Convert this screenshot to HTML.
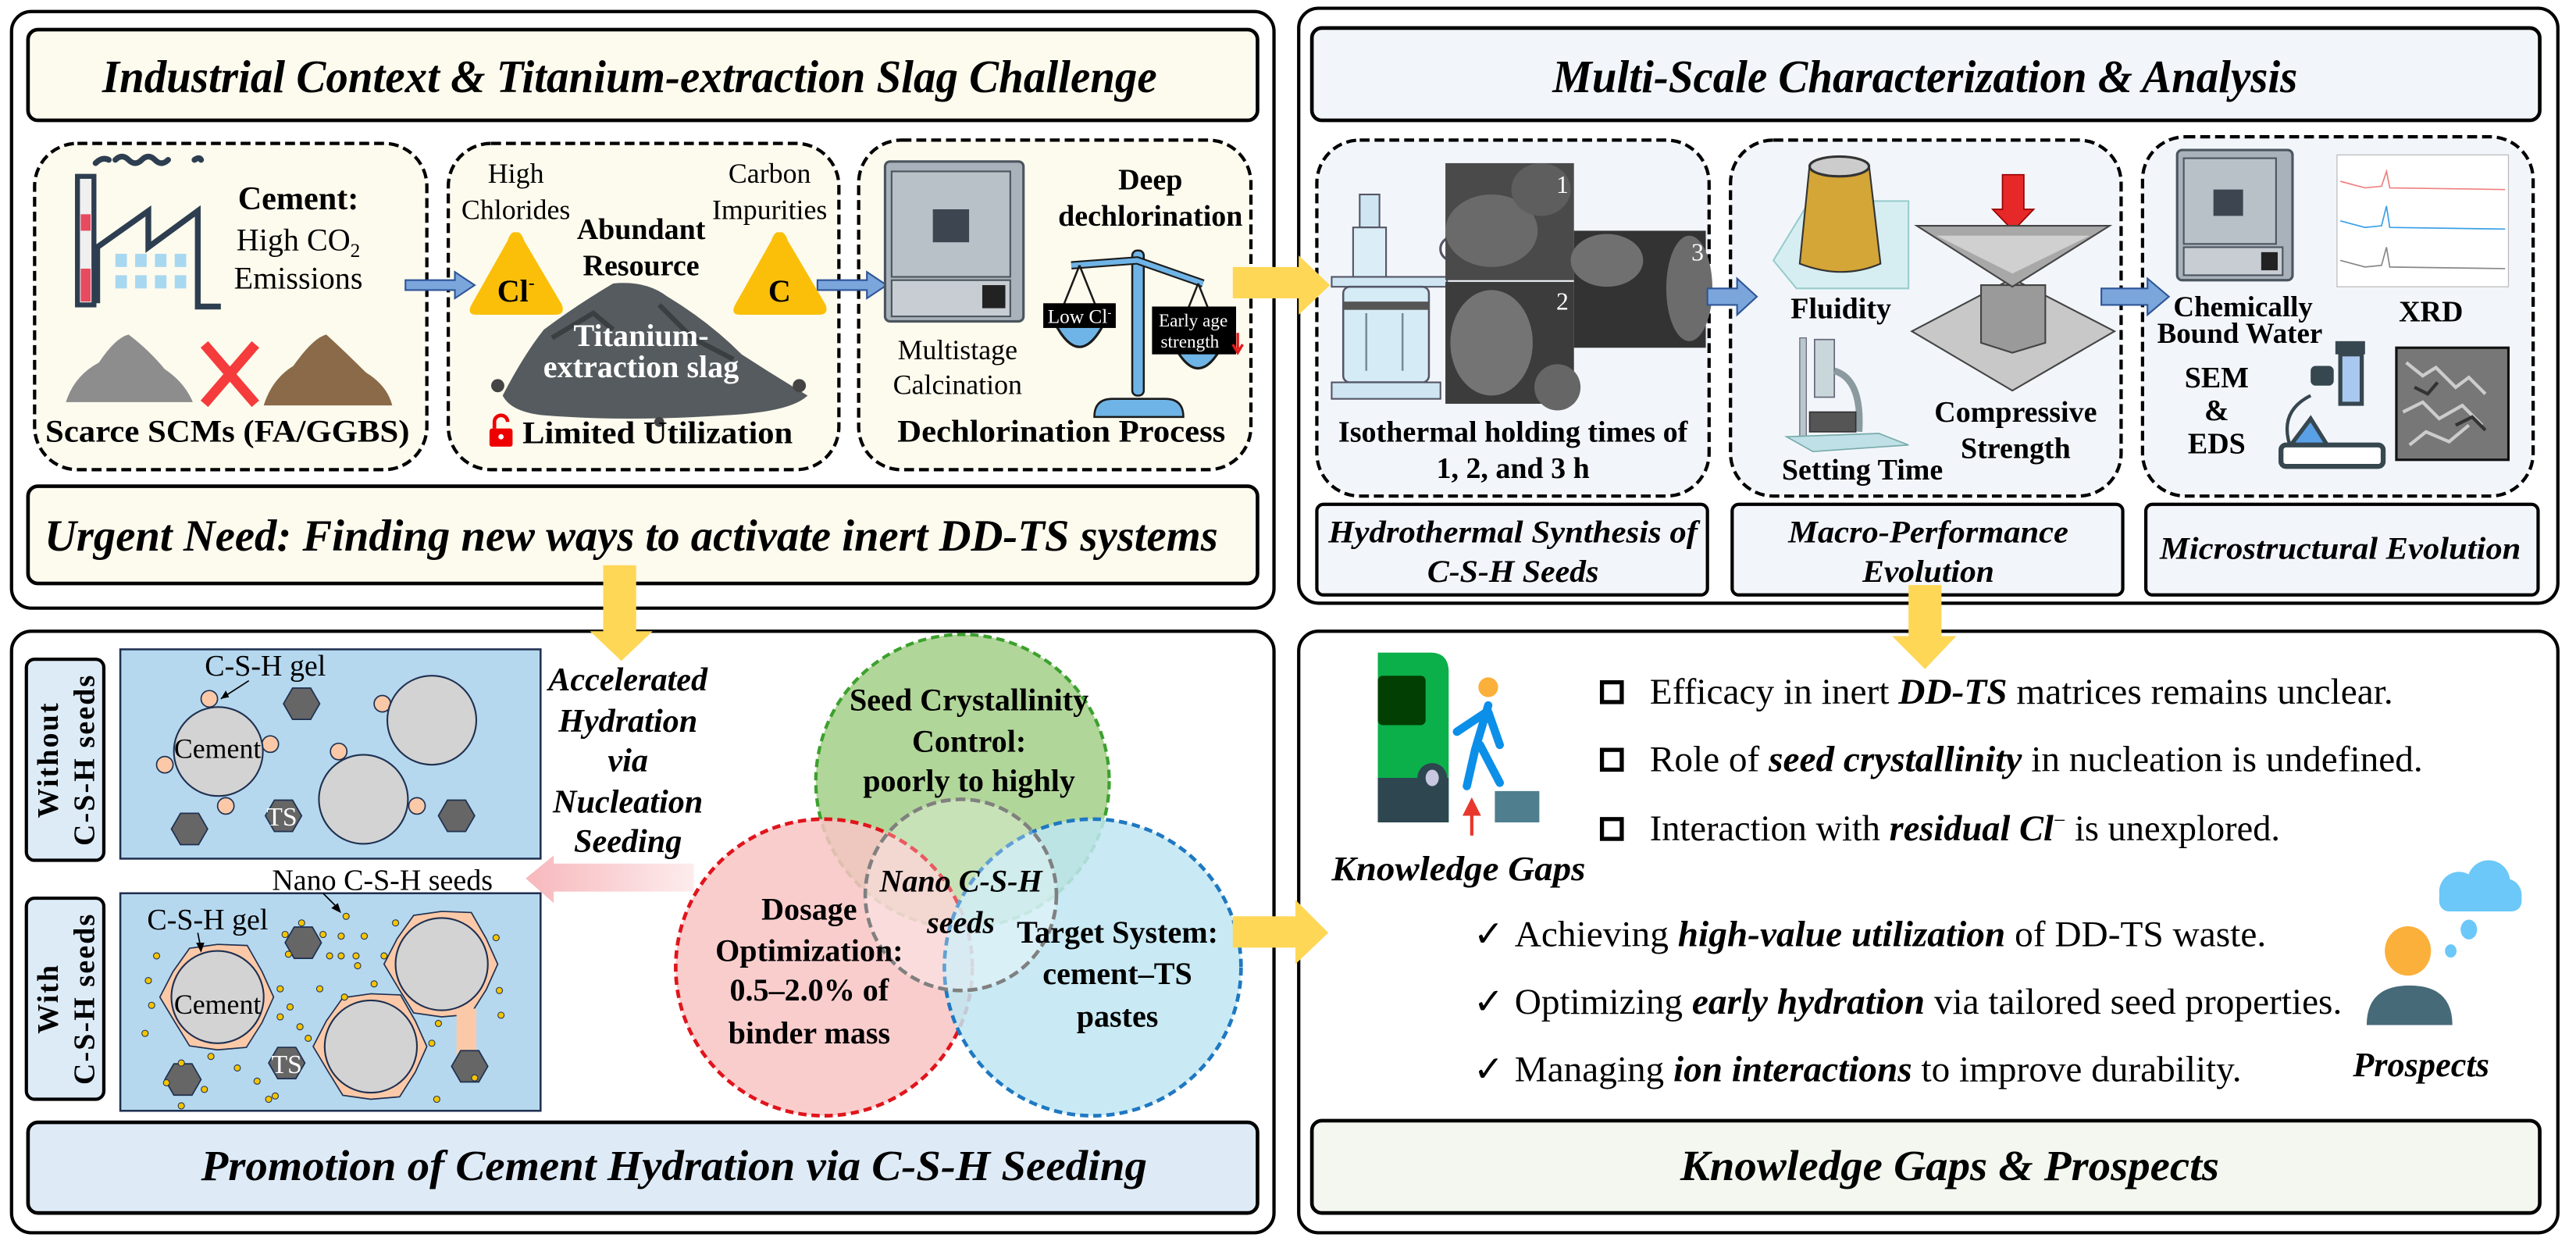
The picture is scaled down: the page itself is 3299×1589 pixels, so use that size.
<!DOCTYPE html>
<html><head><meta charset="utf-8"><style>
html,body{margin:0;padding:0;background:#fff;}
svg{display:block;}
text{font-family:"Liberation Serif",serif;}
</style></head><body>
<svg width="3299" height="1589" viewBox="0 0 1563 753" preserveAspectRatio="none" xmlns="http://www.w3.org/2000/svg">
<defs>
<polygon id="shell" points="34,0 27,15.5 17.5,30.5 0,32 -17,29.6 -26,15 -35,0 -27,-15.5 -17,-29.6 0,-32 18,-31.3 27,-15.5" fill="#fcc9a8" stroke="#1f3050" stroke-width="0.8"/>
<polygon id="hex" points="11,0 5.5,9.5 -5.5,9.5 -11,0 -5.5,-9.5 5.5,-9.5" fill="#666" stroke="#1f3050" stroke-width="0.8"/>
<linearGradient id="pinkg" x1="0" x2="1" y1="0" y2="0"><stop offset="0" stop-color="#f7b8bc"/><stop offset="1" stop-color="#fdeced"/></linearGradient>
</defs>
<rect width="1563" height="753" fill="#fff"/>

<!-- ===== TOP LEFT ===== -->
<rect x="7" y="7" width="766" height="362" rx="12" fill="#fff" stroke="#000" stroke-width="2"/>
<rect x="17" y="18" width="746" height="55" rx="6" fill="#fdfbee" stroke="#000" stroke-width="2.2"/>
<text x="382" y="56" font-size="28" font-weight="bold" font-style="italic" text-anchor="middle" textLength="640" lengthAdjust="spacingAndGlyphs">Industrial Context &amp; Titanium-extraction Slag Challenge</text>

<rect x="21" y="87" width="238" height="198" rx="26" fill="#fdfbee" stroke="#000" stroke-width="2" stroke-dasharray="6,3"/>
<rect x="272" y="87" width="237" height="198" rx="26" fill="#fdfbee" stroke="#000" stroke-width="2" stroke-dasharray="6,3"/>
<rect x="521" y="85" width="238" height="200" rx="26" fill="#fdfbee" stroke="#000" stroke-width="2" stroke-dasharray="6,3"/>

<!-- factory -->
<path d="M58 99 q4 -4 8 -2 M70 97 q4 -4 8 0 q4 4 8 0 q4 -4 8 0 q4 4 8 0 M118 97 q3 -2 4 0" fill="none" stroke="#2d3e50" stroke-width="3.5" stroke-linecap="round"/>
<rect x="47" y="107" width="10" height="78" fill="#f0f0f0" stroke="#2d3e50" stroke-width="3"/>
<rect x="49" y="130" width="6" height="10" fill="#e84a5f"/><rect x="49" y="163" width="6" height="20" fill="#e84a5f"/>
<path d="M59 184 V150 L90 128 V150 L120 128 V186 L134 186" fill="none" stroke="#2d3e50" stroke-width="3.5"/>
<g fill="#a8d8f0"><rect x="70" y="154" width="7" height="8"/><rect x="82" y="154" width="7" height="8"/><rect x="94" y="154" width="7" height="8"/><rect x="106" y="154" width="7" height="8"/><rect x="70" y="167" width="7" height="8"/><rect x="82" y="167" width="7" height="8"/><rect x="94" y="167" width="7" height="8"/><rect x="106" y="167" width="7" height="8"/></g>
<text x="181" y="127" font-size="20" font-weight="bold" text-anchor="middle">Cement:</text>
<text x="181" y="152" font-size="19" text-anchor="middle">High CO<tspan font-size="12" dy="4">2</tspan></text>
<text x="181" y="175" font-size="19" text-anchor="middle">Emissions</text>
<path d="M40 244 Q45 228 60 220 Q70 205 78 203 Q90 212 100 224 Q112 232 117 244 Z" fill="#8d8d8d"/>
<path d="M160 246 Q165 230 178 222 Q190 205 198 203 Q210 214 222 226 Q235 234 238 246 Z" fill="#8a6a48"/>
<path d="M124 209 L155 245 M155 209 L124 245" stroke="#f53b3b" stroke-width="6"/>
<text x="138" y="268" font-size="19" font-weight="bold" text-anchor="middle" textLength="221" lengthAdjust="spacingAndGlyphs">Scarce SCMs (FA/GGBS)</text>

<path d="M246 170 H276 V165 L288 173 L276 181 V176 H246 Z" fill="#7aa6dc" stroke="#2f5597" stroke-width="1"/>
<path d="M496 170 H526 V165 L538 173 L526 181 V176 H496 Z" fill="#7aa6dc" stroke="#2f5597" stroke-width="1"/>

<!-- box2 -->
<text x="313" y="111" font-size="17" text-anchor="middle">High</text>
<text x="313" y="133" font-size="17" text-anchor="middle">Chlorides</text>
<text x="467" y="111" font-size="17" text-anchor="middle">Carbon</text>
<text x="467" y="133" font-size="17" text-anchor="middle">Impurities</text>
<path d="M313 141 Q316 140 318 146 L341 185 Q343 191 337 191 L289 191 Q283 191 286 185 L308 146 Q310 140 313 141 Z" fill="#fbbf0a"/>
<text x="313" y="183" font-size="19" font-family="Liberation Sans" font-weight="bold" text-anchor="middle">Cl<tspan font-size="11" dy="-8">-</tspan></text>
<path d="M473 141 Q476 140 478 146 L501 185 Q503 191 497 191 L449 191 Q443 191 446 185 L468 146 Q470 140 473 141 Z" fill="#fbbf0a"/>
<text x="473" y="183" font-size="19" font-family="Liberation Sans" font-weight="bold" text-anchor="middle">C</text>
<text x="389" y="145" font-size="18" font-weight="bold" text-anchor="middle">Abundant</text>
<text x="389" y="167" font-size="18" font-weight="bold" text-anchor="middle">Resource</text>
<path d="M305 240 Q318 215 330 200 Q350 185 372 172 Q392 170 405 180 Q430 195 450 215 Q470 228 490 240 Q480 250 440 252 Q380 256 330 252 Q310 250 305 240 Z" fill="#555b5e"/>
<path d="M335 205 L360 190 L372 200 M400 185 L420 205 L445 218" stroke="#3a3f42" stroke-width="3" fill="none"/>
<circle cx="302" cy="234" r="4" fill="#444"/><circle cx="485" cy="234" r="4" fill="#444"/><circle cx="400" cy="256" r="3" fill="#444"/>
<text x="389" y="210" font-size="19" font-weight="bold" fill="#fff" text-anchor="middle">Titanium-</text>
<text x="389" y="229" font-size="19" font-weight="bold" fill="#fff" text-anchor="middle">extraction slag</text>
<rect x="297" y="260" width="14" height="11" rx="1.5" fill="#e00"/>
<path d="M300 260 V256 a4 4 0 0 1 8 0" fill="none" stroke="#e00" stroke-width="2.2"/>
<circle cx="304" cy="265" r="1.6" fill="#fff"/>
<text x="399" y="269" font-size="19" font-weight="bold" text-anchor="middle" textLength="164" lengthAdjust="spacingAndGlyphs">Limited Utilization</text>

<!-- box3 oven -->
<rect x="537" y="98" width="84" height="97" rx="3" fill="#a9b2ba" stroke="#4b555e" stroke-width="1.5"/>
<rect x="541" y="104" width="72" height="64" fill="#b8c1c8" stroke="#4b555e" stroke-width="1"/>
<rect x="566" y="127" width="22" height="20" fill="#3d4650"/>
<rect x="541" y="170" width="72" height="22" fill="#c7cdd2" stroke="#4b555e" stroke-width="1"/>
<rect x="596" y="173" width="14" height="14" fill="#222"/>
<text x="581" y="218" font-size="17" text-anchor="middle">Multistage</text>
<text x="581" y="239" font-size="17" text-anchor="middle">Calcination</text>
<text x="698" y="115" font-size="18" font-weight="bold" text-anchor="middle">Deep</text>
<text x="698" y="137" font-size="18" font-weight="bold" text-anchor="middle">dechlorination</text>
<rect x="687" y="152" width="7" height="88" rx="3" fill="#6fb4e6" stroke="#1a1a1a" stroke-width="1.2"/>
<path d="M664 253 Q664 242 675 242 H707 Q718 242 718 253 Z" fill="#6fb4e6" stroke="#1a1a1a" stroke-width="1.2"/>
<path d="M650 161 L690 158 L730 172" fill="none" stroke="#1a1a1a" stroke-width="5"/>
<path d="M650 161 L690 158 L730 172" fill="none" stroke="#6fb4e6" stroke-width="3"/>
<path d="M655 161 L641 196 M655 161 L669 196 M727 172 L713 207 M727 172 L741 207" stroke="#1a1a1a" stroke-width="1.2"/>
<path d="M640 196 Q655 225 670 196 Z" fill="#6fb4e6" stroke="#1a1a1a" stroke-width="1.5"/>
<path d="M712 209 Q727 238 742 209 Z" fill="#6fb4e6" stroke="#1a1a1a" stroke-width="1.5"/>
<rect x="633" y="184" width="44" height="15" fill="#000"/>
<text x="655" y="196" font-size="12" fill="#fff" text-anchor="middle">Low Cl<tspan font-size="7" dy="-4">-</tspan></text>
<rect x="699" y="186" width="51" height="29" fill="#000"/>
<text x="724" y="198" font-size="11" fill="#fff" text-anchor="middle">Early age</text>
<text x="722" y="211" font-size="11" fill="#fff" text-anchor="middle">strength</text>
<path d="M751 202 V212 M748 209 L751 214 L754 209" stroke="#e31a1a" stroke-width="1.6" fill="none"/>
<text x="644" y="268" font-size="19" font-weight="bold" text-anchor="middle" textLength="199" lengthAdjust="spacingAndGlyphs">Dechlorination Process</text>

<rect x="17" y="295" width="746" height="59" rx="6" fill="#fdfbee" stroke="#000" stroke-width="2.2"/>
<text x="383" y="334" font-size="27" font-weight="bold" font-style="italic" text-anchor="middle" textLength="712" lengthAdjust="spacingAndGlyphs">Urgent Need: Finding new ways to activate inert DD-TS systems</text>

<!-- ===== TOP RIGHT ===== -->
<rect x="788" y="5" width="764" height="361" rx="12" fill="#fff" stroke="#000" stroke-width="2"/>
<rect x="796" y="17" width="745" height="56" rx="6" fill="#f2f6fb" stroke="#000" stroke-width="2.2"/>
<text x="1168" y="56" font-size="28" font-weight="bold" font-style="italic" text-anchor="middle" textLength="452" lengthAdjust="spacingAndGlyphs">Multi-Scale Characterization &amp; Analysis</text>
<rect x="799" y="85" width="238" height="216" rx="26" fill="#f2f6fb" stroke="#000" stroke-width="2" stroke-dasharray="6,3"/>
<rect x="1050" y="85" width="237" height="216" rx="26" fill="#f2f6fb" stroke="#000" stroke-width="2" stroke-dasharray="6,3"/>
<rect x="1300" y="83" width="237" height="218" rx="26" fill="#f2f6fb" stroke="#000" stroke-width="2" stroke-dasharray="6,3"/>

<rect x="825" y="118" width="12" height="20" fill="#cfe6f2" stroke="#556" stroke-width="1"/>
<rect x="821" y="138" width="20" height="30" fill="#dbeef7" stroke="#556" stroke-width="1"/>
<rect x="808" y="168" width="70" height="6" fill="#cfe6f2" stroke="#556" stroke-width="1"/>
<rect x="815" y="174" width="52" height="58" rx="4" fill="#d5ebf5" stroke="#556" stroke-width="1.2"/>
<rect x="815" y="183" width="52" height="5" fill="#555"/>
<path d="M829 190 V225 M851 190 V225" stroke="#7a8a96" stroke-width="1.2"/>
<rect x="808" y="232" width="66" height="10" fill="#cfe6f2" stroke="#556" stroke-width="1"/>
<circle cx="881" cy="151" r="7" fill="#fff" stroke="#556" stroke-width="1.5"/>
<rect x="877" y="99" width="78" height="71" fill="#4a4a4a"/>
<ellipse cx="905" cy="140" rx="28" ry="22" fill="#6a6a6a"/><ellipse cx="935" cy="115" rx="18" ry="16" fill="#5e5e5e"/>
<rect x="877" y="171" width="78" height="74" fill="#3c3c3c"/>
<ellipse cx="905" cy="208" rx="25" ry="32" fill="#747474"/><ellipse cx="945" cy="235" rx="14" ry="14" fill="#666"/>
<rect x="955" y="140" width="80" height="71" fill="#333"/>
<ellipse cx="975" cy="158" rx="22" ry="16" fill="#707070"/><ellipse cx="1025" cy="175" rx="14" ry="32" fill="#6c6c6c"/>
<text x="948" y="117" font-size="15" fill="#fff" text-anchor="middle">1</text>
<text x="948" y="188" font-size="15" fill="#fff" text-anchor="middle">2</text>
<text x="1030" y="158" font-size="15" fill="#fff" text-anchor="middle">3</text>
<text x="918" y="268" font-size="18" font-weight="bold" text-anchor="middle" textLength="212" lengthAdjust="spacingAndGlyphs">Isothermal holding times of</text>
<text x="918" y="290" font-size="18" font-weight="bold" text-anchor="middle">1, 2, and 3 h</text>
<path d="M1036 175 H1054 V169 L1066 180 L1054 191 V185 H1036 Z" fill="#7aa6dc" stroke="#2f5597" stroke-width="1"/>

<polygon points="1076,158 1098,122 1158,122 1158,175 1090,175" fill="#d6eef2" stroke="#9cc" stroke-width="1"/>
<path d="M1098 100 L1134 100 L1141 160 Q1118 170 1092 160 Z" fill="#d4a537" stroke="#333" stroke-width="1"/>
<ellipse cx="1116" cy="101" rx="18" ry="6" fill="#ccc" stroke="#333" stroke-width="1.5"/>
<text x="1117" y="193" font-size="18" font-weight="bold" text-anchor="middle">Fluidity</text>
<rect x="1092" y="205" width="4" height="62" fill="#b8c7cc" stroke="#667" stroke-width="0.6"/>
<rect x="1101" y="206" width="12" height="35" fill="#c9d6da" stroke="#667" stroke-width="0.8"/>
<path d="M1113 225 Q1130 230 1128 262" fill="none" stroke="#8a9a9f" stroke-width="4"/>
<rect x="1098" y="250" width="28" height="12" fill="#555" stroke="#333" stroke-width="0.8"/>
<polygon points="1084,265 1140,263 1158,270 1100,274" fill="#bfe0e6" stroke="#7aa" stroke-width="0.8"/>
<text x="1130" y="291" font-size="18" font-weight="bold" text-anchor="middle">Setting Time</text>
<path d="M1215 106 H1228 V127 H1234 L1221.5 140 L1209 127 H1215 Z" fill="#e62828" stroke="#900" stroke-width="0.8"/>
<polygon points="1160,201 1221,169 1283,201 1221,237" fill="#c8c8c8" stroke="#444" stroke-width="1"/>
<polygon points="1202,173 1241,173 1241,208 1221,214 1202,208" fill="#9a9a9a" stroke="#444" stroke-width="1"/>
<polygon points="1163,137 1280,137 1221,174" fill="#a8a8a8" stroke="#444" stroke-width="1"/>
<polygon points="1175,143 1268,143 1221,166" fill="#d0d0d0"/>
<text x="1223" y="256" font-size="18" font-weight="bold" text-anchor="middle">Compressive</text>
<text x="1223" y="278" font-size="18" font-weight="bold" text-anchor="middle">Strength</text>
<path d="M1275 175 H1303 V169 L1316 180 L1303 191 V185 H1275 Z" fill="#7aa6dc" stroke="#2f5597" stroke-width="1"/>

<rect x="1321" y="91" width="70" height="79" rx="3" fill="#a9b2ba" stroke="#4b555e" stroke-width="1.5"/>
<rect x="1325" y="96" width="56" height="52" fill="#b8c1c8" stroke="#4b555e" stroke-width="1"/>
<rect x="1343" y="115" width="18" height="16" fill="#3d4650"/>
<rect x="1325" y="150" width="60" height="17" fill="#c7cdd2" stroke="#4b555e" stroke-width="1"/>
<rect x="1372" y="153" width="10" height="11" fill="#222"/>
<rect x="1418" y="94" width="104" height="80" fill="#fff" stroke="#bbb" stroke-width="0.6"/>
<path d="M1420 110 L1435 114 L1445 113 L1448 104 L1450 114 L1520 115" fill="none" stroke="#f08080" stroke-width="0.8"/>
<path d="M1420 134 L1435 138 L1445 137 L1448 125 L1450 138 L1520 139" fill="none" stroke="#3aa0e6" stroke-width="0.8"/>
<path d="M1420 158 L1435 162 L1445 161 L1448 150 L1450 162 L1520 163" fill="none" stroke="#888" stroke-width="0.8"/>
<text x="1361" y="192" font-size="17.5" font-weight="bold" text-anchor="middle">Chemically</text>
<text x="1359" y="208" font-size="17.5" font-weight="bold" text-anchor="middle">Bound Water</text>
<text x="1475" y="195" font-size="18" font-weight="bold" text-anchor="middle">XRD</text>
<text x="1345" y="235" font-size="18" font-weight="bold" text-anchor="middle">SEM</text>
<text x="1345" y="255" font-size="18" font-weight="bold" text-anchor="middle">&amp;</text>
<text x="1345" y="275" font-size="18" font-weight="bold" text-anchor="middle">EDS</text>
<rect x="1417" y="207" width="18" height="8" fill="#37474f"/>
<rect x="1420" y="215" width="13" height="30" fill="#a8c8f0" stroke="#37474f" stroke-width="2.5"/>
<rect x="1402" y="222" width="14" height="12" rx="3" fill="#37474f"/>
<path d="M1402 240 Q1382 250 1390 272" fill="none" stroke="#37474f" stroke-width="2"/>
<polygon points="1390,270 1402,254 1412,270" fill="#5aa0e6" stroke="#37474f" stroke-width="2.5"/>
<rect x="1384" y="270" width="62" height="13" rx="3" fill="#fff" stroke="#37474f" stroke-width="3"/>
<rect x="1454" y="211" width="68" height="68" fill="#777" stroke="#111" stroke-width="1.5"/>
<path d="M1460 220 l10 8 l8 -5 l12 12 l8 -6 l10 10 M1458 250 l12 -6 l10 10 l14 -8 l12 12 M1462 270 l10 -8 l14 6 l12 -10" stroke="#ccc" stroke-width="2" fill="none"/>
<path d="M1465 235 l8 4 l6 -7 M1490 258 l10 -5 l8 8" stroke="#333" stroke-width="2" fill="none"/>

<rect x="799" y="306" width="237" height="55" rx="4" fill="#f2f6fb" stroke="#000" stroke-width="2"/>
<rect x="1051" y="306" width="237" height="55" rx="4" fill="#f2f6fb" stroke="#000" stroke-width="2"/>
<rect x="1302" y="306" width="238" height="55" rx="4" fill="#f2f6fb" stroke="#000" stroke-width="2"/>
<text x="918" y="329" font-size="19" font-weight="bold" font-style="italic" text-anchor="middle" textLength="224" lengthAdjust="spacingAndGlyphs">Hydrothermal Synthesis of</text>
<text x="918" y="353" font-size="19" font-weight="bold" font-style="italic" text-anchor="middle" textLength="104" lengthAdjust="spacingAndGlyphs">C-S-H Seeds</text>
<text x="1170" y="329" font-size="19" font-weight="bold" font-style="italic" text-anchor="middle" textLength="170" lengthAdjust="spacingAndGlyphs">Macro-Performance</text>
<text x="1170" y="353" font-size="19" font-weight="bold" font-style="italic" text-anchor="middle" textLength="80" lengthAdjust="spacingAndGlyphs">Evolution</text>
<text x="1420" y="339" font-size="19" font-weight="bold" font-style="italic" text-anchor="middle" textLength="219" lengthAdjust="spacingAndGlyphs">Microstructural Evolution</text>

<!-- ===== BOTTOM LEFT ===== -->
<rect x="7" y="383" width="766" height="365" rx="12" fill="#fff" stroke="#000" stroke-width="2"/>
<rect x="16" y="400" width="47" height="122" rx="5" fill="#ddebf7" stroke="#000" stroke-width="2"/>
<rect x="16" y="545" width="47" height="122" rx="5" fill="#ddebf7" stroke="#000" stroke-width="2"/>
<text transform="translate(35,461) rotate(-90)" font-size="18" font-weight="bold" text-anchor="middle" letter-spacing="1">Without</text>
<text transform="translate(57,461) rotate(-90)" font-size="18" font-weight="bold" text-anchor="middle" letter-spacing="1">C-S-H seeds</text>
<text transform="translate(35,606) rotate(-90)" font-size="18" font-weight="bold" text-anchor="middle" letter-spacing="1">With</text>
<text transform="translate(57,606) rotate(-90)" font-size="18" font-weight="bold" text-anchor="middle" letter-spacing="1">C-S-H seeds</text>

<rect x="73" y="394" width="255" height="127" fill="#b5d8ef" stroke="#1f3050" stroke-width="1.2"/>
<g fill="#fcc9a8" stroke="#1f3050" stroke-width="0.8">
<circle cx="127" cy="424" r="5"/><circle cx="164" cy="451.5" r="5"/><circle cx="100" cy="464" r="5"/><circle cx="137" cy="489" r="5"/><circle cx="232" cy="427" r="5"/><circle cx="205.5" cy="456" r="5"/><circle cx="253" cy="489" r="5"/>
</g>
<g fill="#d3d3d3" stroke="#1f3050" stroke-width="1">
<circle cx="132.5" cy="456" r="27"/><circle cx="262" cy="437" r="27"/><circle cx="220.5" cy="485" r="27"/>
</g>
<use href="#hex" x="183" y="427"/><use href="#hex" x="172" y="495"/><use href="#hex" x="115" y="503"/><use href="#hex" x="277" y="495"/>
<text x="132" y="460" font-size="17" text-anchor="middle">Cement</text>
<text x="171" y="501" font-size="16" fill="#fff" text-anchor="middle">TS</text>
<text x="161" y="410" font-size="18" text-anchor="middle">C-S-H gel</text>
<path d="M151 413 L134 424" stroke="#000" stroke-width="0.8"/><path d="M134 424 L137 419 L139 423 Z" fill="#000"/>

<rect x="73" y="542" width="255" height="132" fill="#b5d8ef" stroke="#1f3050" stroke-width="1.2"/>
<use href="#shell" x="132" y="605"/><use href="#shell" x="268" y="585"/><use href="#shell" x="225" y="635"/>
<rect x="277" y="612" width="12" height="30" fill="#fcc9a8"/>
<g fill="#d3d3d3" stroke="#1f3050" stroke-width="1">
<circle cx="132" cy="605" r="28"/><circle cx="268" cy="585" r="28"/><circle cx="225" cy="635" r="28"/>
</g>
<use href="#hex" x="184" y="572"/><use href="#hex" x="111" y="655"/><use href="#hex" x="174" y="645"/><use href="#hex" x="285" y="647"/>
<g fill="#f5c400" stroke="#1f3050" stroke-width="0.5">
<circle cx="95" cy="580" r="1.9"/><circle cx="90" cy="595" r="1.9"/><circle cx="92" cy="610" r="1.9"/><circle cx="88" cy="627" r="1.9"/><circle cx="110" cy="645" r="1.9"/><circle cx="128" cy="641" r="1.9"/><circle cx="144" cy="648" r="1.9"/><circle cx="156" cy="656" r="1.9"/><circle cx="167" cy="665" r="1.9"/><circle cx="170" cy="600" r="1.9"/><circle cx="176" cy="611" r="1.9"/><circle cx="170" cy="617" r="1.9"/><circle cx="182" cy="623" r="1.9"/><circle cx="187" cy="630" r="1.9"/><circle cx="194" cy="600" r="1.9"/><circle cx="209" cy="605" r="1.9"/><circle cx="207" cy="580" r="1.9"/><circle cx="200" cy="580" r="1.9"/><circle cx="216" cy="580" r="1.9"/><circle cx="217" cy="586" r="1.9"/><circle cx="221" cy="568" r="1.9"/><circle cx="210" cy="556" r="1.9"/><circle cx="207" cy="568" r="1.9"/><circle cx="233" cy="580" r="1.9"/><circle cx="240" cy="560" r="1.9"/><circle cx="227" cy="597" r="1.9"/><circle cx="301" cy="569" r="1.9"/><circle cx="303" cy="601" r="1.9"/><circle cx="304" cy="616" r="1.9"/><circle cx="266" cy="621" r="1.9"/><circle cx="262" cy="633" r="1.9"/><circle cx="288" cy="654" r="1.9"/><circle cx="265" cy="667" r="1.9"/><circle cx="183" cy="560" r="1.9"/><circle cx="173" cy="567" r="1.9"/><circle cx="196" cy="567" r="1.9"/><circle cx="175" cy="579" r="1.9"/><circle cx="163" cy="667" r="1.9"/><circle cx="110" cy="671" r="1.9"/><circle cx="124" cy="661" r="1.9"/><circle cx="101" cy="657" r="1.9"/>
</g>
<text x="132" y="615" font-size="17" text-anchor="middle">Cement</text>
<text x="174" y="651" font-size="16" fill="#fff" text-anchor="middle">TS</text>
<text x="126" y="564" font-size="18" text-anchor="middle">C-S-H gel</text>
<path d="M120 566 L122 576" stroke="#000" stroke-width="0.8"/><path d="M122 578 L119 572 L124 572 Z" fill="#000"/>
<text x="232" y="540" font-size="18" text-anchor="middle">Nano C-S-H seeds</text>
<path d="M196 542 L206 552" stroke="#000" stroke-width="0.8"/><path d="M207 554 L201 551 L205 548 Z" fill="#000"/>

<g font-size="20" font-weight="bold" font-style="italic" text-anchor="middle">
<text x="381" y="419">Accelerated</text><text x="381" y="444">Hydration</text><text x="381" y="468">via</text><text x="381" y="493">Nucleation</text><text x="381" y="517">Seeding</text>
</g>
<path d="M421 524 H336 V519 L319 533 L336 548 V541 H421 Z" fill="url(#pinkg)"/>

<circle cx="584" cy="474" r="89" fill="#a9d18e" fill-opacity="0.9" stroke="#3ca02e" stroke-width="2" stroke-dasharray="5,3"/>
<circle cx="500" cy="587" r="90" fill="#f9c4c4" fill-opacity="0.85" stroke="#e0141c" stroke-width="2.2" stroke-dasharray="5,3"/>
<circle cx="663" cy="587" r="90" fill="#bfe6f2" fill-opacity="0.85" stroke="#1f78c1" stroke-width="2.2" stroke-dasharray="5,3"/>
<circle cx="583" cy="543" r="58" fill="#ffffff" fill-opacity="0.3" stroke="#808080" stroke-width="2.2" stroke-dasharray="6,3"/>
<g font-size="19" font-weight="bold" text-anchor="middle">
<text x="588" y="431">Seed Crystallinity</text><text x="588" y="456">Control:</text><text x="588" y="480">poorly to highly</text>
<text x="491" y="558">Dosage</text><text x="491" y="583">Optimization:</text><text x="491" y="607">0.5–2.0% of</text><text x="491" y="633">binder mass</text>
<text x="678" y="572">Target System:</text><text x="678" y="597">cement–TS</text><text x="678" y="623">pastes</text>
<text x="583" y="541" font-style="italic">Nano C-S-H</text><text x="583" y="566" font-style="italic">seeds</text>
</g>

<rect x="17" y="681" width="746" height="55" rx="6" fill="#deebf7" stroke="#000" stroke-width="2.2"/>
<text x="409" y="716" font-size="26" font-weight="bold" font-style="italic" text-anchor="middle" textLength="574" lengthAdjust="spacingAndGlyphs">Promotion of Cement Hydration via C-S-H Seeding</text>

<!-- ===== BOTTOM RIGHT ===== -->
<rect x="788" y="383" width="764" height="365" rx="12" fill="#fff" stroke="#000" stroke-width="2"/>
<path d="M836 396 H868 Q879 396 879 408 V499 H836 Z" fill="#0bb04a"/>
<rect x="836" y="410" width="29" height="30" rx="3" fill="#013f03"/>
<rect x="836" y="472" width="43" height="27" fill="#2e4650"/>
<circle cx="869" cy="472" r="9" fill="#2e4650"/><ellipse cx="869" cy="472" rx="4" ry="5" fill="#c8c8e0"/>
<circle cx="903" cy="417" r="6" fill="#fbb03b"/>
<path d="M903 428 L895 455 L890 477 M898 452 L910 475 M903 432 L910 452 M902 432 L884 444" stroke="#0b8fe8" stroke-width="5" stroke-linecap="round" fill="none"/>
<rect x="907" y="480" width="27" height="19" fill="#4f7f8f"/>
<path d="M893 507 V490 M889 494 L893 486 L897 494 Z" stroke="#e8372c" stroke-width="2" fill="#e8372c"/>
<text x="885" y="534" font-size="21" font-weight="bold" font-style="italic" text-anchor="middle" textLength="154" lengthAdjust="spacingAndGlyphs">Knowledge Gaps</text>

<g font-size="22">
<rect x="972" y="414" width="12" height="12" fill="none" stroke="#000" stroke-width="2.5"/>
<text x="1001" y="427" textLength="451" lengthAdjust="spacingAndGlyphs">Efficacy in inert <tspan font-weight="bold" font-style="italic">DD-TS</tspan> matrices remains unclear.</text>
<rect x="972" y="455" width="12" height="12" fill="none" stroke="#000" stroke-width="2.5"/>
<text x="1001" y="468" textLength="469" lengthAdjust="spacingAndGlyphs">Role of <tspan font-weight="bold" font-style="italic">seed crystallinity</tspan> in nucleation is undefined.</text>
<rect x="972" y="497" width="12" height="12" fill="none" stroke="#000" stroke-width="2.5"/>
<text x="1001" y="510">Interaction with <tspan font-weight="bold" font-style="italic">residual Cl</tspan><tspan font-size="13" dy="-8">−</tspan><tspan dy="8"> is unexplored.</tspan></text>
<text x="894" y="574">✓</text>
<text x="919" y="574" textLength="456" lengthAdjust="spacingAndGlyphs">Achieving <tspan font-weight="bold" font-style="italic">high-value utilization</tspan> of DD-TS waste.</text>
<text x="894" y="615">✓</text>
<text x="919" y="615" textLength="502" lengthAdjust="spacingAndGlyphs">Optimizing <tspan font-weight="bold" font-style="italic">early hydration</tspan> via tailored seed properties.</text>
<text x="894" y="656">✓</text>
<text x="919" y="656" textLength="441" lengthAdjust="spacingAndGlyphs">Managing <tspan font-weight="bold" font-style="italic">ion interactions</tspan> to improve durability.</text>
</g>
<g fill="#6cc8f8"><circle cx="1492" cy="541" r="12"/><circle cx="1510" cy="535" r="13"/><circle cx="1520" cy="543" r="10"/><rect x="1480" y="538" width="50" height="15" rx="6"/><ellipse cx="1498" cy="564" rx="5" ry="6"/><ellipse cx="1487" cy="577" rx="3.5" ry="4"/></g>
<ellipse cx="1461" cy="577" rx="14" ry="15" fill="#fbb03b"/>
<path d="M1436 622 Q1436 598 1462 598 Q1488 598 1488 622 Z" fill="#476a78"/>
<text x="1469" y="653" font-size="21" font-weight="bold" font-style="italic" text-anchor="middle">Prospects</text>

<rect x="796" y="680" width="745" height="56" rx="6" fill="#f3f7ef" stroke="#000" stroke-width="2.2"/>
<text x="1183" y="716" font-size="26" font-weight="bold" font-style="italic" text-anchor="middle" textLength="327" lengthAdjust="spacingAndGlyphs">Knowledge Gaps &amp; Prospects</text>

<g fill="#ffd757">
<path d="M748 162 H788 V155 L807 173 L788 191 V181 H748 Z"/>
<path d="M366 343 H386 V383 H396 L377 401 L358 383 H366 Z"/>
<path d="M1158 355 H1178 V386 H1187 L1168 406 L1148 386 H1158 Z"/>
<path d="M748 556 H786 V546 L806 566 L786 585 V575 H748 Z"/>
</g>
</svg>
</body></html>
